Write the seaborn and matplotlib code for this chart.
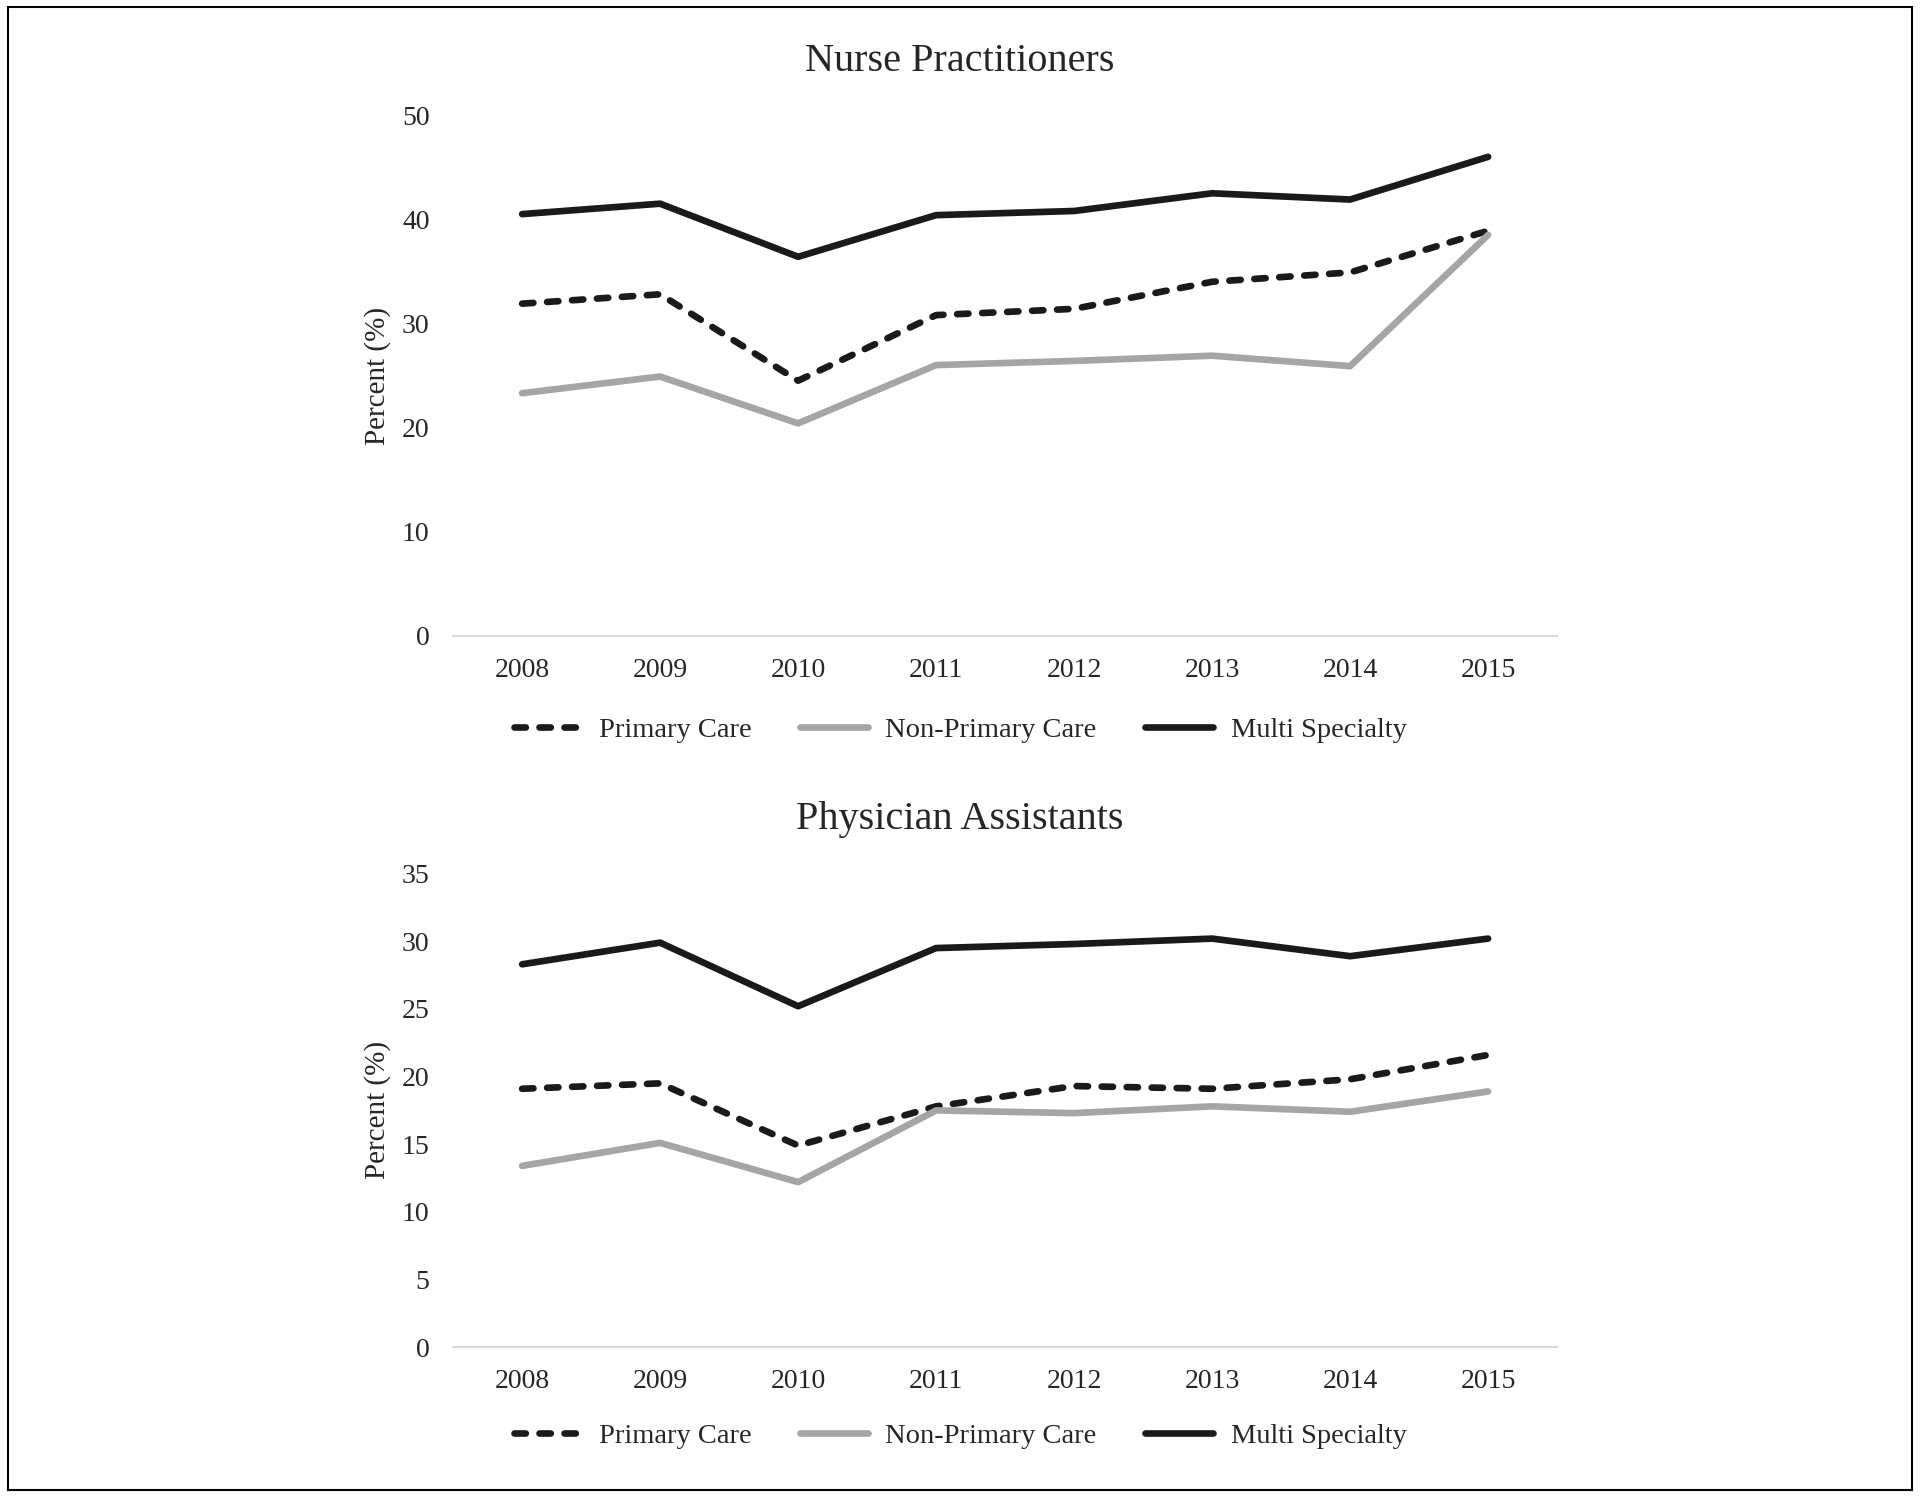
import numpy as np
import pandas as pd
import matplotlib
matplotlib.use("Agg")
import matplotlib.pyplot as plt
import seaborn as sns

years = ["2008", "2009", "2010", "2011", "2012", "2013", "2014", "2015"]
series_names = ["Primary Care", "Non-Primary Care", "Multi Specialty"]

np_primary = [31.9, 32.8, 24.5, 30.8, 31.4, 34.0, 34.9, 38.9]
np_nonprimary = [23.3, 24.9, 20.4, 26.0, 26.4, 26.9, 25.9, 38.5]
np_multi = [40.5, 41.5, 36.4, 40.4, 40.8, 42.5, 41.9, 46.0]

pa_primary = [19.1, 19.5, 14.9, 17.8, 19.3, 19.1, 19.8, 21.6]
pa_nonprimary = [13.4, 15.1, 12.2, 17.5, 17.3, 17.8, 17.4, 18.9]
pa_multi = [28.3, 29.9, 25.2, 29.5, 29.8, 30.2, 28.9, 30.2]

sns.set_theme(style="white")
plt.rcParams["font.family"] = ["Liberation Serif", "DejaVu Serif"]

LW = 4.8
styles = {
    "Primary Care": dict(color="#1a1a1a", linestyle=(0, (1.7, 2.05)), linewidth=LW,
                         dash_capstyle="round", solid_joinstyle="round"),
    "Non-Primary Care": dict(color="#a5a5a5", linestyle="-", linewidth=LW),
    "Multi Specialty": dict(color="#1a1a1a", linestyle="-", linewidth=LW),
}

L, W = 0.236, 0.575
fig = plt.figure(figsize=(19.2, 14.96), dpi=100)
ax1 = fig.add_axes([L, 0.575, W, 0.348])
ax2 = fig.add_axes([L, 0.0995, W, 0.3165])
xc = (0.5 - L) / W  # figure centre in axes coords


def draw(ax, vals, title, ymax, step):
    for name, v in zip(series_names, vals):
        df = pd.DataFrame({"year": years, "pct": v})
        sns.lineplot(data=df, x="year", y="pct", ax=ax, label=name, **styles[name])
    ax.set_xlim(-0.5, len(years) - 0.5)
    ax.set_ylim(0, ymax)
    ticks = np.arange(0, ymax + 0.1, step)
    ax.set_yticks(ticks)
    ax.set_yticklabels([f"{t:g}" for t in ticks])
    ax.set_xlabel("")
    ax.set_ylabel("Percent (%)", fontsize=21, labelpad=8)
    ax.set_title(title, fontsize=29, pad=32, x=xc)
    ax.tick_params(axis="both", labelsize=20, length=0)
    ax.tick_params(axis="x", pad=16)
    ax.tick_params(axis="y", pad=17)
    for s in ["top", "right", "left"]:
        ax.spines[s].set_visible(False)
    ax.spines["bottom"].set_color("#d9d9d9")
    ax.spines["bottom"].set_linewidth(1.5)
    ax.grid(False)
    ax.legend(loc="upper center", bbox_to_anchor=(xc, -0.107), ncol=3,
              frameon=False, fontsize=20.5, handlelength=2.4,
              handletextpad=0.6, columnspacing=1.7)


draw(ax1, [np_primary, np_nonprimary, np_multi], "Nurse Practitioners", 50, 10)
draw(ax2, [pa_primary, pa_nonprimary, pa_multi], "Physician Assistants", 35, 5)

border = plt.Rectangle((0.004, 0.004), 0.992, 0.991, transform=fig.transFigure,
                       fill=False, edgecolor="black", linewidth=1.5)
fig.patches.append(border)

fig.savefig("out.png", dpi=100)
